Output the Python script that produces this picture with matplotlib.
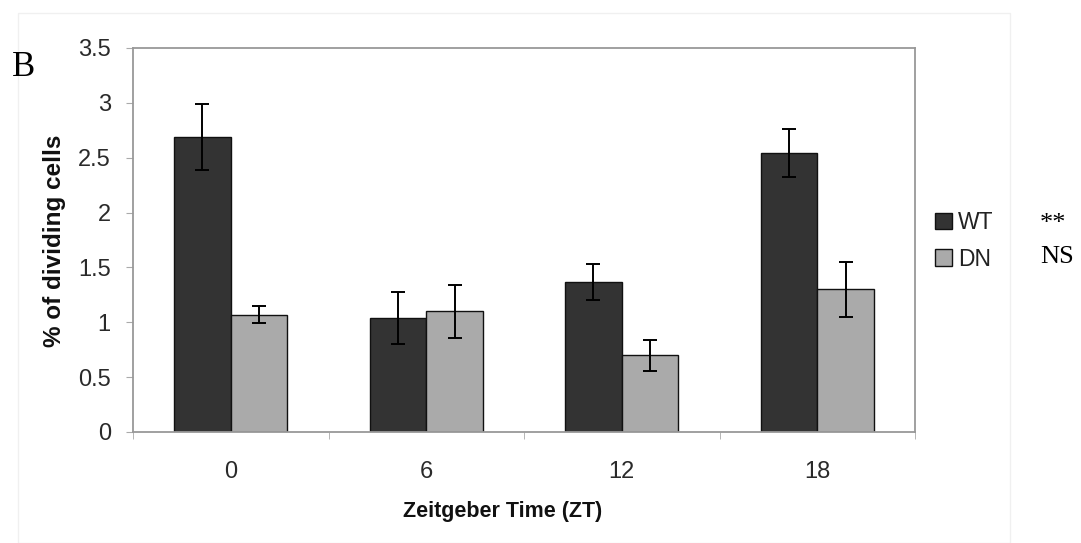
import numpy as np
import matplotlib.pyplot as plt

zt = ['0', '6', '12', '18']
wt = [2.69, 1.04, 1.37, 2.54]
wt_err = [0.30, 0.24, 0.165, 0.22]
dn = [1.07, 1.10, 0.70, 1.30]
dn_err = [0.08, 0.24, 0.14, 0.25]

fig = plt.figure(figsize=(10.81, 5.43), dpi=100)
ax = fig.add_axes([133/1081, 1-432/543, 782/1081, 384/543])

x = np.arange(len(zt))
w = 0.29
ekw = dict(ecolor='black', lw=1.4, capsize=4.8, capthick=1.4)
ax.bar(x - w/2, wt, w, color='#333333', edgecolor='#111111', lw=1,
       yerr=wt_err, error_kw=ekw, label='WT')
ax.bar(x + w/2, dn, w, color='#aaaaaa', edgecolor='#111111', lw=1,
       yerr=dn_err, error_kw=ekw, label='DN')

ax.set_xlim(-0.5, 3.5)
ax.set_ylim(0, 3.5)
ax.set_yticks(np.arange(0, 3.51, 0.5))
ax.set_yticklabels(['0', '0.5', '1', '1.5', '2', '2.5', '3', '3.5'])
ax.set_xticks(x)
ax.set_xticklabels(zt)
ax.set_xticks(np.arange(-0.5, 3.6, 1), minor=True)
ax.tick_params(axis='x', which='major', length=0, pad=21)
ax.tick_params(axis='x', which='minor', length=5, color='#aaaaaa', direction='out')
ax.tick_params(axis='y', length=5, color='#aaaaaa', direction='out', pad=11)
for s in ax.spines.values():
    s.set_color('#999999')
    s.set_linewidth(1.3)
for lab in ax.get_xticklabels() + ax.get_yticklabels():
    lab.set_fontfamily('Liberation Sans')
    lab.set_fontsize(17)
    lab.set_color('#2a2a2a')

fig.text(54/1081, 1-241/543, '% of dividing cells', rotation=90, ha='center', va='center',
         fontfamily='Liberation Sans', fontsize=17.5, fontweight='bold', color='#111111')
fig.text(503/1081, 1-512/543, 'Zeitgeber Time (ZT)', ha='center', va='center',
         fontfamily='Liberation Sans', fontsize=15.5, fontweight='bold', color='#111111')

leg = ax.legend(loc='upper left', bbox_to_anchor=(935/1081, 1-211/543),
                bbox_transform=fig.transFigure, frameon=False, borderpad=0, borderaxespad=0,
                prop={'family': 'Liberation Sans', 'size': 16.5},
                handlelength=0.75, handleheight=0.75, handletextpad=0.25, labelspacing=0.6)
for t in leg.get_texts():
    t.set_color('#222222')

fig.text(1040/1081, 1-224/543, '**', ha='left', va='center', fontfamily='Liberation Serif', fontsize=19)
fig.text(1040/1081, 1-257/543, 'NS', ha='left', va='center', fontfamily='Liberation Serif', fontsize=19)
fig.text(12/1081, 1-67/543, 'B', ha='left', va='center', fontfamily='Liberation Serif', fontsize=25)

fig.patches.append(plt.Rectangle((18/1081, 0.0), 992/1081, 1-13/543, transform=fig.transFigure,
                                 fill=False, edgecolor='#f0f0f0', lw=1))

fig.savefig('out.png', dpi=100)
